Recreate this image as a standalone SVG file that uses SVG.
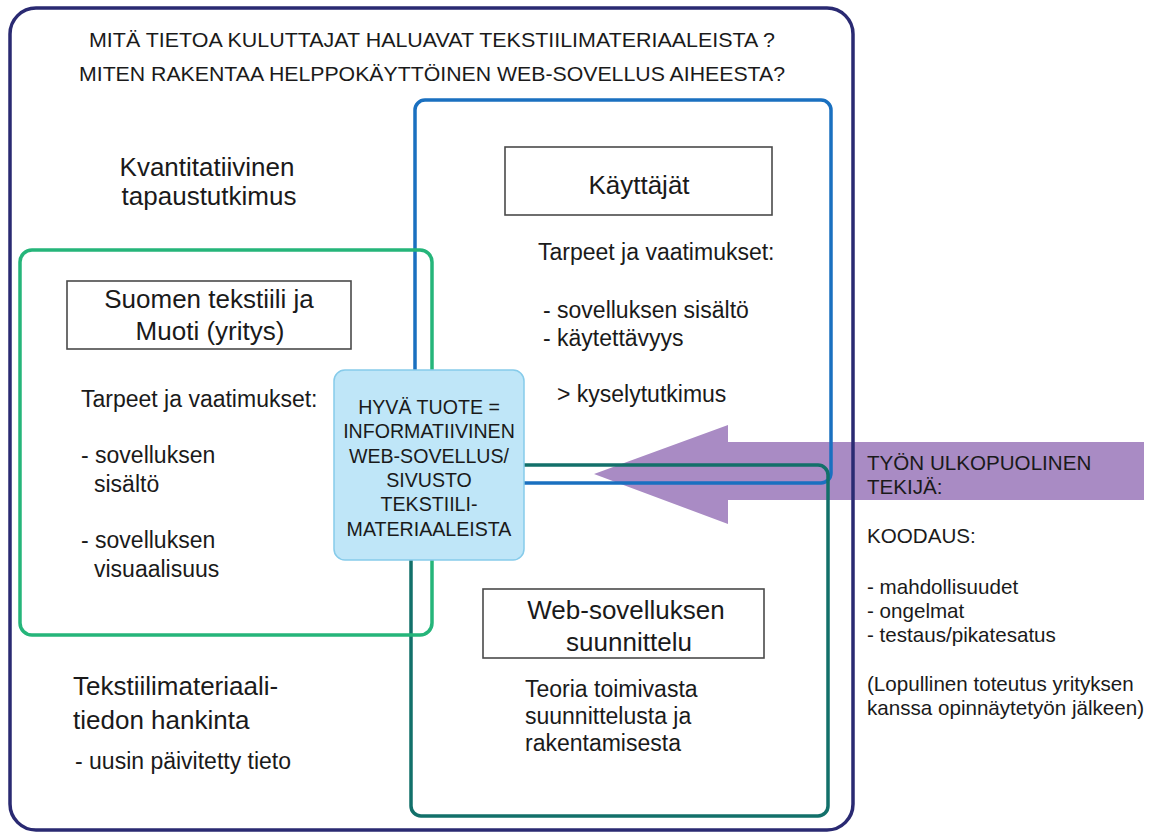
<svg xmlns="http://www.w3.org/2000/svg" width="1156" height="834" viewBox="0 0 1156 834">
<style>
  text { font-family: "Liberation Sans", Arial, sans-serif; fill: #1a1a1a; }
  .frame { fill: none; stroke-width: 3.5; }
  .lbl { fill: #ffffff; stroke: #4a4a4a; stroke-width: 1.6; }
  .t26 { font-size: 26px; }
  .t23 { font-size: 23px; }
  .t20 { font-size: 20.6px; }
  .mid { text-anchor: middle; }
</style>
<rect width="1156" height="834" fill="#ffffff"/>

<g id="connectors">
  <polygon points="1144,442 728,442 728,425 594,474 728,524 728,500 1144,500" fill="#a98bc4"/>
</g>

<g id="outer-frame">
  <rect x="10" y="8" width="843" height="822" rx="26" class="frame" stroke="#2a2a72"/>
  <text x="432" y="47" class="mid" font-size="21" textLength="686" lengthAdjust="spacingAndGlyphs">MITÄ TIETOA KULUTTAJAT HALUAVAT TEKSTIILIMATERIAALEISTA ?</text>
  <text x="432" y="81" class="mid" font-size="21" textLength="706" lengthAdjust="spacingAndGlyphs">MITEN RAKENTAA HELPPOKÄYTTÖINEN WEB-SOVELLUS AIHEESTA?</text>
  <text x="207" y="176" class="mid t26">Kvantitatiivinen</text>
  <text x="209" y="205" class="mid t26">tapaustutkimus</text>
  <text x="73" y="695" class="t26">Tekstiilimateriaali-</text>
  <text x="73" y="729" class="t26">tiedon hankinta</text>
  <text x="75" y="769" class="t23">- uusin päivitetty tieto</text>
</g>

<g id="kayttajat">
  <rect x="415" y="100" width="416" height="383" rx="10" class="frame" stroke="#1a70c0"/>
  <rect x="505" y="147" width="267" height="68" class="lbl"/>
  <text x="639" y="194" class="mid t26">Käyttäjät</text>
  <text x="538" y="260" class="t23">Tarpeet ja vaatimukset:</text>
  <text x="543" y="318" class="t23">- sovelluksen sisältö</text>
  <text x="543" y="346" class="t23">- käytettävyys</text>
  <text x="557" y="402" class="t23">&gt; kyselytutkimus</text>
</g>

<g id="web-suunnittelu">
  <rect x="411" y="465" width="417" height="351" rx="10" class="frame" stroke="#12706a"/>
  <rect x="483" y="589" width="281" height="69" class="lbl"/>
  <text x="626" y="619" class="mid t26">Web-sovelluksen</text>
  <text x="629" y="651" class="mid t26">suunnittelu</text>
  <text x="525" y="697" class="t23">Teoria toimivasta</text>
  <text x="525" y="724" class="t23">suunnittelusta ja</text>
  <text x="525" y="751" class="t23">rakentamisesta</text>
</g>

<g id="yritys">
  <rect x="20" y="250" width="412" height="385" rx="12" class="frame" stroke="#25b57a"/>
  <rect x="67" y="281" width="284" height="68" class="lbl"/>
  <text x="209" y="308" class="mid t26">Suomen tekstiili ja</text>
  <text x="210" y="340" class="mid t26">Muoti (yritys)</text>
  <text x="81" y="407" class="t23">Tarpeet ja vaatimukset:</text>
  <text x="81" y="463" class="t23">- sovelluksen</text>
  <text x="94" y="492" class="t23">sisältö</text>
  <text x="81" y="548" class="t23">- sovelluksen</text>
  <text x="94" y="577" class="t23">visuaalisuus</text>
</g>

<g id="hyva-tuote">
  <rect x="334" y="370" width="190" height="190" rx="11" fill="#bfe6f8" stroke="#86cbea" stroke-width="1.5"/>
  <text x="429" y="414" class="mid" font-size="19.6">HYVÄ TUOTE =</text>
  <text x="429" y="438" class="mid" font-size="19.6">INFORMATIIVINEN</text>
  <text x="429" y="463" class="mid" font-size="19.6">WEB-SOVELLUS/</text>
  <text x="429" y="487" class="mid" font-size="19.6">SIVUSTO</text>
  <text x="429" y="511" class="mid" font-size="19.6">TEKSTIILI-</text>
  <text x="429" y="536" class="mid" font-size="19.6">MATERIAALEISTA</text>
</g>

<g id="ulkopuolinen-tekija">
  <text x="867" y="470" class="t20">TYÖN ULKOPUOLINEN</text>
  <text x="867" y="494" class="t20">TEKIJÄ:</text>
  <text x="867" y="543" class="t20">KOODAUS:</text>
  <text x="867" y="594" class="t20">- mahdollisuudet</text>
  <text x="867" y="618" class="t20">- ongelmat</text>
  <text x="867" y="642" class="t20">- testaus/pikatesatus</text>
  <text x="867" y="691" class="t20">(Lopullinen toteutus yrityksen</text>
  <text x="867" y="715" class="t20">kanssa opinnäytetyön jälkeen)</text>
</g>
</svg>
